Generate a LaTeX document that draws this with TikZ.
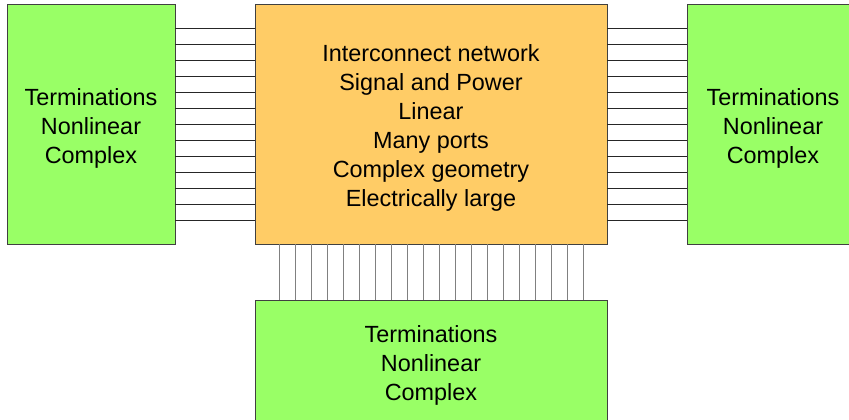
\documentclass[tikz,border=0pt]{standalone}
\usepackage{fontspec}
\setmainfont{Liberation Sans}
\definecolor{termgreen}{HTML}{99FF66}
\definecolor{netorange}{HTML}{FFCC66}
\tikzset{
  termbox/.style={draw=black!75,line width=0.9pt,fill=termgreen,minimum width=168pt,minimum height=240pt,inner sep=0pt},
  netbox/.style={draw=black!75,line width=0.9pt,fill=netorange,minimum width=352pt,minimum height=240pt,inner sep=0pt},
  boxtext/.style={align=center,inner sep=0pt,yshift=-4pt},
  hwire/.style={black!85,line width=0.8pt},
  vwire/.style={black!50,line width=1pt}
}
\begin{document}
\begin{tikzpicture}[x=1pt,y=-1pt,every node/.style={font=\fontsize{23.4}{29}\selectfont}]
\useasboundingbox (0,0) rectangle (849,420);
\clip (0,0) rectangle (849,420);
% terminations and network
\node[termbox] (termL) at (91,124) {};
\node[netbox] (net) at (431,124) {};
\node[termbox,minimum width=172pt] (termR) at (773,124) {};
\node[termbox,minimum width=352pt,minimum height=124pt] (termB) at (431,362.7) {};
\node[boxtext] (txtL) at (termL.center) {Terminations\\Nonlinear\\Complex};
\node[boxtext] (txtNet) at (net.center) {Interconnect network\\Signal and Power\\Linear\\Many ports\\Complex geometry\\Electrically large};
\node[boxtext] (txtR) at (termR.center) {Terminations\\Nonlinear\\Complex};
\node[boxtext,yshift=1.5pt] (txtB) at (termB.center) {Terminations\\Nonlinear\\Complex};
% side ports
\foreach \i in {0,...,12} {
  \draw[hwire] (termL.east |- 0,28.3+16*\i) -- (net.west |- 0,28.3+16*\i);
  \draw[hwire] (net.east |- 0,28.3+16*\i) -- (termR.west |- 0,28.3+16*\i);
}
% bottom ports
\foreach \i in {0,...,19}
  \draw[vwire] (net.south -| 279+16*\i,0) -- (termB.north -| 279+16*\i,0);
\end{tikzpicture}
\end{document}
